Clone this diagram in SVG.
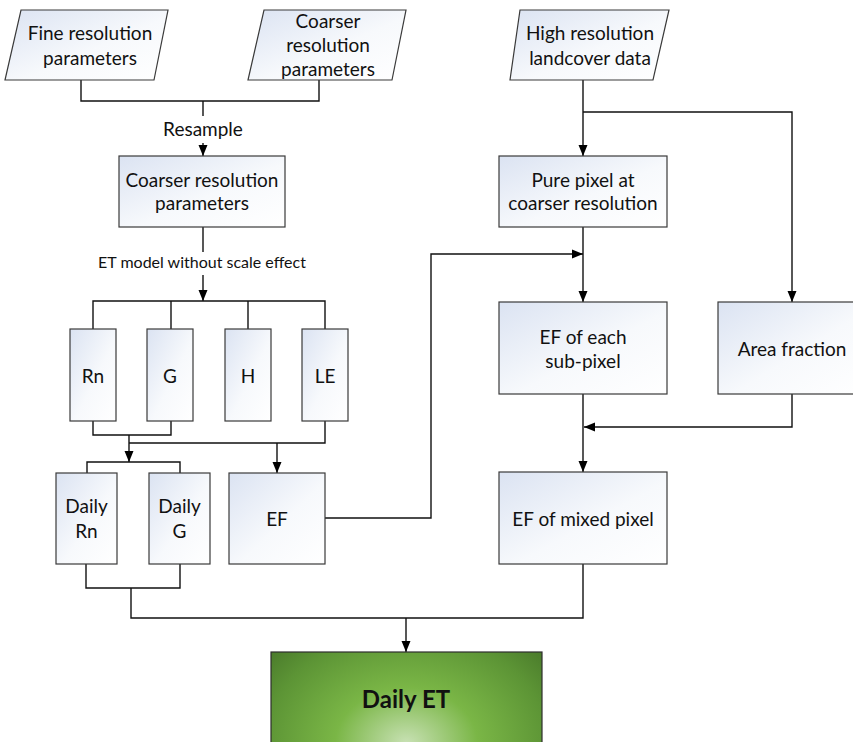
<svg xmlns="http://www.w3.org/2000/svg" width="853" height="742" viewBox="0 0 853 742">
<defs>
<linearGradient id="nodeFill" x1="0" y1="0" x2="1" y2="1">
<stop offset="0" stop-color="#dbe3f2"/>
<stop offset="0.55" stop-color="#f7f9fc"/>
<stop offset="1" stop-color="#ffffff"/>
</linearGradient>
<radialGradient id="etFill" cx="0.5" cy="0.95" r="0.75" fx="0.5" fy="0.95" gradientTransform="translate(0.5 0.95) scale(1 2.2) translate(-0.5 -0.95)">
<stop offset="0" stop-color="#c8e1b4"/>
<stop offset="0.35" stop-color="#7ab646"/>
<stop offset="0.7" stop-color="#5c9435"/>
<stop offset="1" stop-color="#3f6b25"/>
</radialGradient>
<marker id="arr" markerUnits="userSpaceOnUse" markerWidth="12" markerHeight="12" viewBox="0 0 12 12" refX="11" refY="6" orient="auto">
<path d="M0,1.5 L11,6 L0,10.5 Z" fill="#000"/>
</marker>
</defs>
<style>
.n{fill:url(#nodeFill);stroke:#3a3a3a;stroke-width:1.2}
.t{font-family:Lato,"Liberation Sans",sans-serif;font-size:19px;fill:#111;text-anchor:middle}
.lbl{font-family:Lato,"Liberation Sans",sans-serif;font-size:16px;fill:#111;text-anchor:middle}
.c{fill:none;stroke:#111;stroke-width:1.4}
.a{marker-end:url(#arr)}
</style>
<g id="connectors">
<polyline class="c" points="81,80 81,101 319,101 319,80"/>
<line class="c" x1="203" y1="101" x2="203" y2="116"/>
<line class="c a" x1="203" y1="143" x2="203" y2="156"/>
<line class="c" x1="203" y1="227" x2="203" y2="252"/>
<line class="c a" x1="203" y1="275" x2="203" y2="301"/>
<polyline class="c" points="93,329 93,301 325,301 325,329"/>
<line class="c" x1="171" y1="301" x2="171" y2="329"/>
<line class="c" x1="248" y1="301" x2="248" y2="329"/>
<polyline class="c" points="93,421 93,435 171,435 171,421"/>
<line class="c a" x1="129" y1="435" x2="129" y2="462"/>
<polyline class="c" points="325,421 325,443 129,443"/>
<line class="c a" x1="277" y1="443" x2="277" y2="473"/>
<polyline class="c" points="87,473 87,462 180,462 180,473"/>
<polyline class="c" points="86,564 86,588 180,588 180,564"/>
<polyline class="c" points="131,588 131,618 583,618 583,564"/>
<line class="c a" x1="406" y1="618" x2="406" y2="652"/>
<polyline class="c a" points="325,518 431,518 431,254 583,254"/>
<line class="c a" x1="583" y1="80" x2="583" y2="156"/>
<polyline class="c a" points="583,112 792,112 792,302"/>
<line class="c a" x1="583" y1="227" x2="583" y2="302"/>
<polyline class="c a" points="792,394 792,427 584,427"/>
<line class="c a" x1="583" y1="394" x2="583" y2="472"/>
<text class="t" x="203" y="136">Resample</text>
<text class="lbl" x="202" y="268">ET model without scale effect</text>
</g>
<g id="fine-params">
<polygon class="n" points="21,10 168,10 154,80 5,80"/>
<text class="t" x="90" y="40">Fine resolution</text>
<text class="t" x="90" y="65">parameters</text>
</g>
<g id="coarse-params-input">
<polygon class="n" points="264,10 406,10 392,80 248,80"/>
<text class="t" x="328" y="28">Coarser</text>
<text class="t" x="328" y="52">resolution</text>
<text class="t" x="328" y="76">parameters</text>
</g>
<g id="coarse-params">
<rect class="n" x="119" y="156" width="166" height="71"/>
<text class="t" x="202" y="187">Coarser resolution</text>
<text class="t" x="202" y="210">parameters</text>
</g>
<g id="rn">
<rect class="n" x="70" y="329" width="46" height="92"/>
<text class="t" x="93" y="383">Rn</text>
</g>
<g id="g">
<rect class="n" x="147" y="329" width="46" height="92"/>
<text class="t" x="170" y="383">G</text>
</g>
<g id="h">
<rect class="n" x="225" y="329" width="46" height="92"/>
<text class="t" x="248" y="383">H</text>
</g>
<g id="le">
<rect class="n" x="302" y="329" width="46" height="92"/>
<text class="t" x="325" y="383">LE</text>
</g>
<g id="daily-rn">
<rect class="n" x="56" y="473" width="61" height="91"/>
<text class="t" x="86.5" y="513">Daily</text>
<text class="t" x="86.5" y="538">Rn</text>
</g>
<g id="daily-g">
<rect class="n" x="149" y="473" width="61" height="91"/>
<text class="t" x="179.5" y="513">Daily</text>
<text class="t" x="179.5" y="538">G</text>
</g>
<g id="ef">
<rect class="n" x="229" y="473" width="96" height="91"/>
<text class="t" x="277" y="526">EF</text>
</g>
<g id="landcover">
<polygon class="n" points="520,10 669,10 653,80 510,80"/>
<text class="t" x="590" y="40">High resolution</text>
<text class="t" x="590" y="65">landcover data</text>
</g>
<g id="pure-pixel">
<rect class="n" x="499" y="156" width="168" height="71"/>
<text class="t" x="583" y="187">Pure pixel at</text>
<text class="t" x="583" y="210">coarser resolution</text>
</g>
<g id="ef-sub">
<rect class="n" x="499" y="302" width="168" height="92"/>
<text class="t" x="583" y="344">EF of each</text>
<text class="t" x="583" y="368">sub-pixel</text>
</g>
<g id="area-fraction">
<rect class="n" x="718" y="302" width="148" height="92"/>
<text class="t" x="792" y="356">Area fraction</text>
</g>
<g id="ef-mixed">
<rect class="n" x="499" y="472" width="168" height="92"/>
<text class="t" x="583" y="526">EF of mixed pixel</text>
</g>
<g id="daily-et">
<rect x="271" y="652" width="271" height="96" fill="url(#etFill)" stroke="#2e2e2e" stroke-width="1.2"/>
<text x="406" y="708" font-family="Lato,'Liberation Sans',sans-serif" font-size="24" font-weight="bold" fill="#111" text-anchor="middle">Daily ET</text>
</g>
</svg>
